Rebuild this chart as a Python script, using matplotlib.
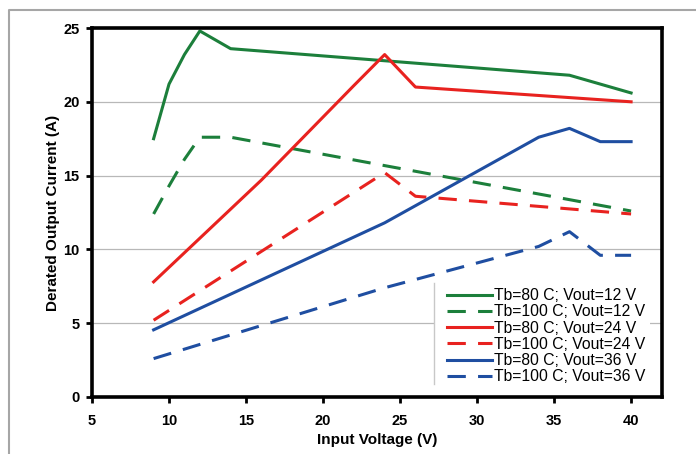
import matplotlib
matplotlib.use("Agg")
import matplotlib.pyplot as plt
from matplotlib.lines import Line2D

plt.rcParams['font.family'] = ['Liberation Sans', 'DejaVu Sans']

# Tb=80 C / Tb=100 C curves for three output voltages
v12_80_x = [9, 10, 11, 12, 14, 36, 40]
v12_80_y = [17.5, 21.2, 23.2, 24.8, 23.6, 21.8, 20.6]
v12_100_x = [9, 10, 11, 12, 14, 40]
v12_100_y = [12.4, 14.3, 16.1, 17.6, 17.6, 12.6]

v24_80_x = [9, 16, 22, 24, 26, 40]
v24_80_y = [7.8, 14.7, 21.1, 23.2, 21.0, 20.0]
v24_100_x = [9, 24, 26, 40]
v24_100_y = [5.2, 15.2, 13.6, 12.4]

v36_80_x = [9, 24, 34, 36, 38, 40]
v36_80_y = [4.55, 11.8, 17.6, 18.2, 17.3, 17.3]
v36_100_x = [9, 24, 34, 36, 38, 40]
v36_100_y = [2.6, 7.4, 10.2, 11.2, 9.6, 9.6]

labels = ["Tb=80 C; Vout=12 V", "Tb=100 C; Vout=12 V",
          "Tb=80 C; Vout=24 V", "Tb=100 C; Vout=24 V",
          "Tb=80 C; Vout=36 V", "Tb=100 C; Vout=36 V"]

green = '#1c7f3b'
red = '#e8221f'
blue = '#1f4ea1'
dash = (0, (6, 4))

fig = plt.figure(figsize=(6.96, 4.54), dpi=100)
ax = fig.add_axes([0.1322, 0.1256, 0.951 - 0.1322, 0.9383 - 0.1256])

lw = 2.2
ax.plot(v12_80_x, v12_80_y, color=green, lw=lw, label=labels[0])
ax.plot(v12_100_x, v12_100_y, color=green, lw=lw, ls=dash, label=labels[1])
ax.plot(v24_80_x, v24_80_y, color=red, lw=lw, label=labels[2])
ax.plot(v24_100_x, v24_100_y, color=red, lw=lw, ls=dash, label=labels[3])
ax.plot(v36_80_x, v36_80_y, color=blue, lw=lw, label=labels[4])
ax.plot(v36_100_x, v36_100_y, color=blue, lw=lw, ls=dash, label=labels[5])

ax.set_xlim(5, 42)
ax.set_ylim(0, 25)
ax.set_xticks([5, 10, 15, 20, 25, 30, 35, 40])
ax.set_yticks([0, 5, 10, 15, 20, 25])
ax.yaxis.grid(True, color='#b8b8b8', lw=0.9)
ax.set_axisbelow(True)

for s in ax.spines.values():
    s.set_linewidth(2.6)
ax.tick_params(axis='both', direction='out', length=4, width=2, labelsize=10.5)
ax.tick_params(axis='x', pad=8)
ax.tick_params(axis='y', pad=5)
for t in ax.get_xticklabels() + ax.get_yticklabels():
    t.set_fontweight('bold')

ax.set_xlabel("Input Voltage (V)", fontsize=11, fontweight='bold', labelpad=4)
ax.set_ylabel("Derated Output Current (A)", fontsize=11, fontweight='bold', labelpad=2)

leg = ax.legend(loc='lower right', bbox_to_anchor=(0.993, 0.0), fontsize=11.3,
                handlelength=2.9, handletextpad=0.1, labelspacing=0.08,
                borderpad=0.3, frameon=True, fancybox=False)
leg.get_frame().set_edgecolor('none')
leg.get_frame().set_facecolor('white')
leg.get_frame().set_alpha(1)

fig.canvas.draw()
bb = leg.get_window_extent()
x_line = (bb.x0 - 8) / fig.bbox.width
fig.add_artist(Line2D([x_line, x_line], [bb.y0 / fig.bbox.height + 0.012, bb.y1 / fig.bbox.height],
                      transform=fig.transFigure, color='#c8c8c8', lw=1))
fig.add_artist(plt.Rectangle((x_line, bb.y0 / fig.bbox.height), (bb.x0 - x_line * fig.bbox.width) / fig.bbox.width,
                             (bb.y1 - bb.y0) / fig.bbox.height, transform=fig.transFigure,
                             facecolor='white', edgecolor='none', zorder=0.5))

# outer gray frame of the original slide
fig.add_artist(Line2D([9 / 696, 9 / 696, 1.0], [0.0, 1 - 10 / 454, 1 - 10 / 454],
                      transform=fig.transFigure, color='#a6a6a6', lw=1.5))

fig.savefig("out.png", dpi=100)
